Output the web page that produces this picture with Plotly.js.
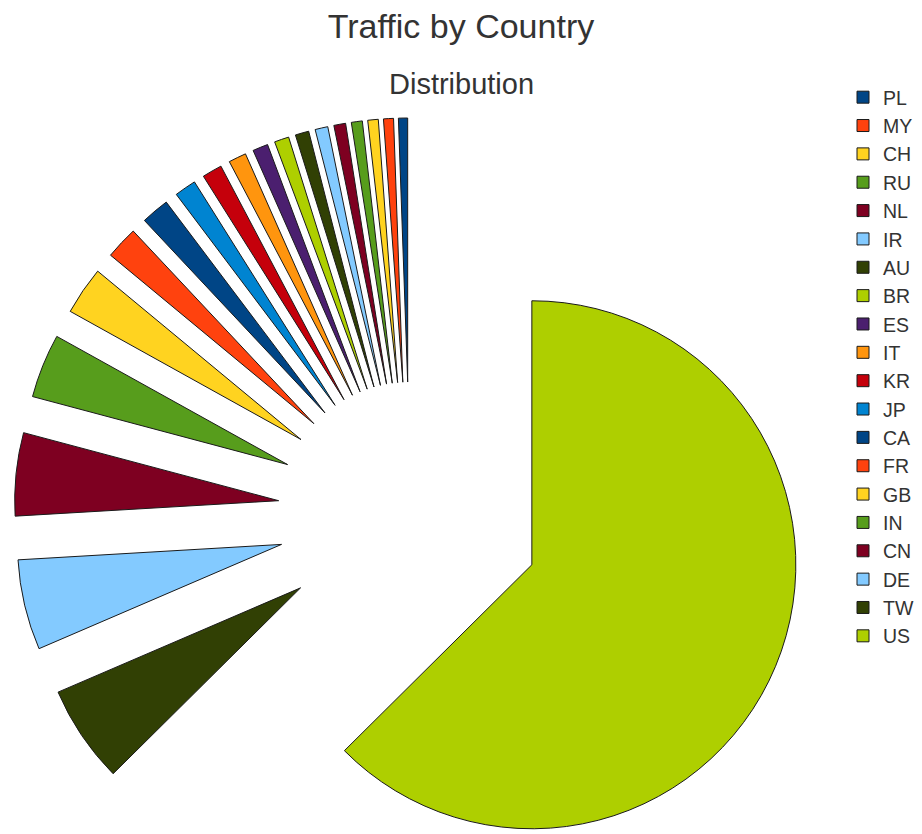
<!DOCTYPE html>
<html>
<head>
<meta charset="utf-8">
<script src="https://cdn.plot.ly/plotly-3.0.1.min.js"></script>
<style>
  html, body { margin: 0; padding: 0; overflow: hidden; background: #fff; }
  #wrap { width: 922px; height: 834px; overflow: hidden; position: relative; }
  #chart { width: 922px; height: 960px; }
</style>
</head>
<body>
<div id="wrap"><div id="chart"></div></div>
<script>
const labels = ['US','TW','DE','CN','IN','GB','FR','CA','JP','KR','IT','ES','BR','AU','IR','NL','RU','CH','MY','PL'];
const values = [6256,597,553,508,392,294,200,172,133,122,108,94,89,83,78,72,67,64,61,56];
const colors = ['#aecf00','#314004','#83caff','#7e0021','#579d1c','#ffd320','#ff420e','#004586','#0084d1','#c5000b','#ff950e','#4b1f6f','#aecf00','#314004','#83caff','#7e0021','#579d1c','#ffd320','#ff420e','#004586'];
const chartTitle = 'Traffic by Country';
const chartSubtitle = 'Distribution';

const FONT = '"Liberation Sans", Arial, sans-serif';
const H = 960;

const trace = {
  type: 'pie',
  labels: labels,
  values: values,
  sort: false,
  direction: 'clockwise',
  rotation: 0,
  pull: 0.5,
  textinfo: 'none',
  hoverinfo: 'label+percent',
  marker: { colors: colors, line: { color: '#1a1a1a', width: 1 } }
};

const layout = {
  width: 922,
  height: H,
  margin: { l: 14, r: 116, t: 118, b: H - 118 - 792 },
  paper_bgcolor: '#ffffff',
  font: { family: FONT, color: '#333333' },
  title: {
    text: chartTitle,
    font: { family: FONT, size: 34, color: '#333333' },
    x: 0.5, xref: 'container', xanchor: 'center',
    y: 1 - 26 / H, yref: 'container', yanchor: 'middle'
  },
  annotations: [{
    text: chartSubtitle,
    showarrow: false,
    xref: 'paper', yref: 'paper',
    x: (461 - 14) / 792, xanchor: 'center',
    y: 1 + (118 - 84) / 792, yanchor: 'middle',
    font: { family: FONT, size: 29, color: '#333333' }
  }],
  showlegend: true,
  legend: {
    traceorder: 'reversed',
    xref: 'container', yref: 'container',
    x: 843 / 922, xanchor: 'left',
    y: 1 - 78 / H, yanchor: 'top',
    maxheight: 860,
    font: { family: FONT, size: 19.5, color: '#333333' },
    bgcolor: 'rgba(0,0,0,0)'
  }
};

Plotly.newPlot('chart', [trace], layout, { displayModeBar: false, staticPlot: true });
</script>
</body>
</html>
